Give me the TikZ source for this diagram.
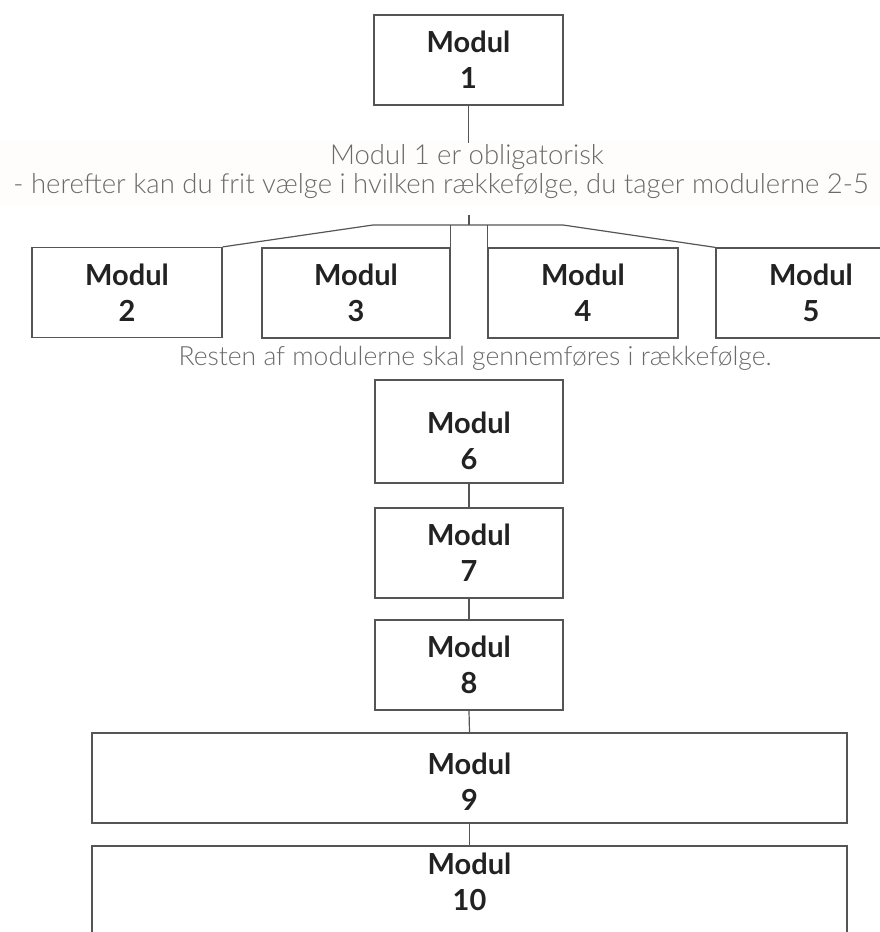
\documentclass[tikz,border=0pt]{standalone}
\usepackage{fontspec}
\setmainfont{Lato}
\newfontfamily\lightfont{Lato Light}
\definecolor{boxline}{HTML}{555555}
\definecolor{modtext}{HTML}{222222}
\definecolor{greytext}{HTML}{6A6A6A}
\definecolor{band}{HTML}{FEFDFB}
\begin{document}
\begin{tikzpicture}[x=1pt,y=-1pt,
  modbox/.style={draw=boxline,line width=1.2pt,fill=white,inner sep=0pt,
    minimum width=189pt,minimum height=90pt,align=center,
    font=\fontsize{29}{36}\selectfont\bfseries,text=modtext},
  modlabel/.style={inner sep=0pt,align=center,
    font=\fontsize{29}{36}\selectfont\bfseries,text=modtext},
  note/.style={font=\lightfont\fontsize{27.5}{30}\selectfont,text=greytext,inner sep=0pt},
  conn/.style={draw=boxline,line width=1.2pt}]
\useasboundingbox (0,0) rectangle (880,932);
\fill[band] (0,140) rectangle (880,205);
\begin{scope}
\clip (0,0) rectangle (880,932);
\node[modbox] (m1) at (468.5,60) {Modul\\1};
\node[modbox,minimum width=190pt] (m2) at (127,292.5) {Modul\\2};
\node[modbox,minimum width=188pt] (m3) at (356,293) {Modul\\3};
\node[modbox,minimum width=190pt] (m4) at (583,293) {Modul\\4};
\node[modbox,minimum width=190pt] (m5) at (811,293) {Modul\\5};
\node[modbox,minimum width=188pt,minimum height=103pt] (m6) at (469,431.5) {};
\node[modlabel] (t6) at (469,441) {Modul\\6};
\node[modbox,minimum width=188pt] (m7) at (469,553) {Modul\\7};
\node[modbox,minimum width=188pt] (m8) at (469,665) {Modul\\8};
\node[modbox,minimum width=755pt] (m9) at (469.5,778) {};
\node[modlabel] (t9) at (469.5,782) {Modul\\9};
\node[modbox,minimum width=755pt] (m10) at (469.5,891) {};
\node[modlabel] (t10) at (469.5,882) {Modul\\10};
\end{scope}
\node[note] (n1) at (467,157) {Modul 1 er obligatorisk};
\node[note] (n2) at (441,186) {- herefter kan du frit vælge i hvilken rækkefølge, du tager modulerne 2-5};
\node[note,font=\lightfont\fontsize{26.5}{30}\selectfont] (n3) at (475,358) {Resten af modulerne skal gennemføres i rækkefølge.};
\coordinate (c1) at (468.5,143);
\coordinate (k1) at (469,215);
\coordinate (k2) at (469,225);
\coordinate (hl) at (373,225);
\coordinate (hr) at (563,225);
\coordinate (v3) at (m3.east |- hl);
\coordinate (v4) at (m4.west |- hl);
\draw[conn] (m1.south) -- (c1);
\draw[conn] (k1) -- (k2);
\draw[conn] (m2.north east) -- (hl) -- (hr) -- (m5.north west);
\draw[conn] (m3.north east) -- (v3);
\draw[conn] (m4.north west) -- (v4);
\draw[conn] (m6.south) -- (m7.north);
\draw[conn] (m7.south) -- (m8.north);
\draw[conn] (m8.south) -- (m9.north);
\draw[conn] (m9.south) -- (m10.north);
\end{tikzpicture}
\end{document}
